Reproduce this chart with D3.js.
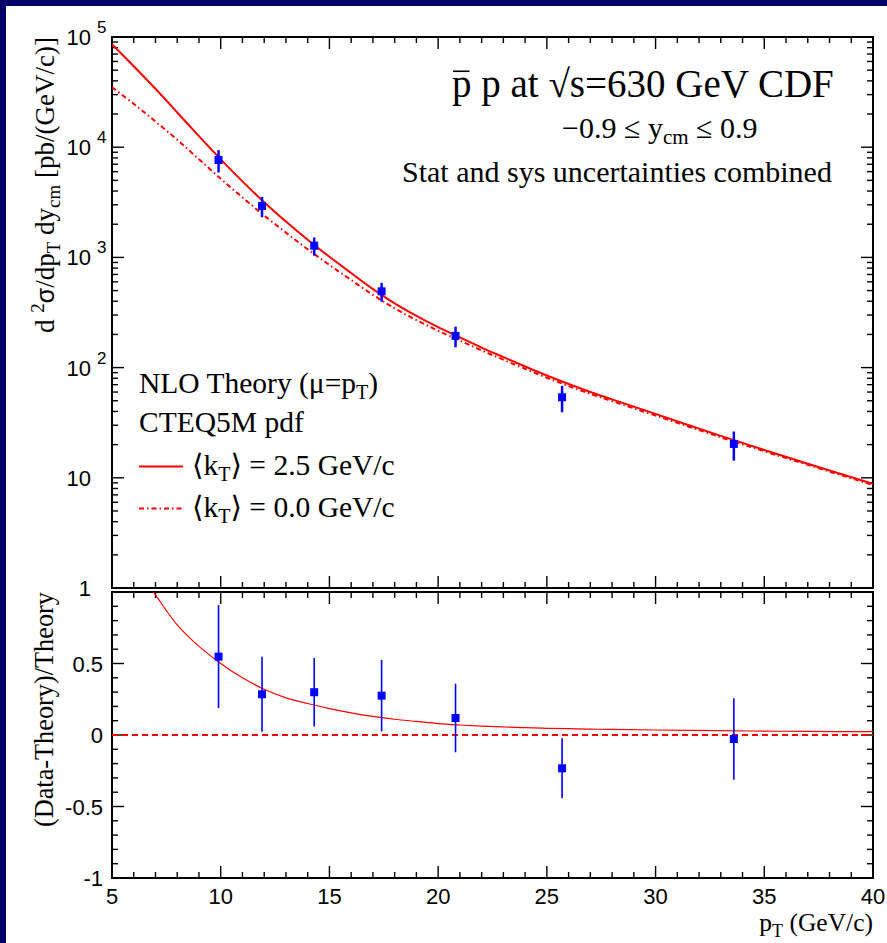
<!DOCTYPE html>
<html>
<head>
<meta charset="utf-8">
<script src="https://cdn.jsdelivr.net/npm/d3@7"></script>
<style>
  body { margin: 0; background: #fff; }
  svg { display: block; }
</style>
</head>
<body>
<svg id="chart" width="887" height="943"></svg>
<script>
// ---- measured points (CDF, sqrt(s) = 630 GeV) ----
const dataPT       = [9.9, 11.9, 14.3, 17.4, 20.8, 25.7, 33.6];
const dataXsec     = [7650, 2925, 1277, 492, 194, 53.8, 20.3];
const dataXsecErr  = [1750, 610, 240, 96, 41, 14.5, 6];
const dataRatio    = [0.548, 0.285, 0.299, 0.275, 0.119, -0.233, -0.028];
const dataRatioErr = [0.36, 0.263, 0.24, 0.25, 0.24, 0.21, 0.285];

// ---- NLO theory curves ----
const curvePT = [5, 6, 7, 8, 9, 10, 11, 12, 13, 14, 15, 16, 17, 18, 19, 20,
                 21, 22, 23, 24, 25, 26, 27, 28, 30, 33, 35, 37, 40];
const nloKt25 = [86100, 54330, 33880, 20650, 12590, 7762, 4898, 3162, 2113, 1445,
                 1012, 721, 516, 383, 295, 233, 188, 152, 124.5, 102.3,
                 84.7, 71.0, 60.1, 51.5, 38.0, 24.0, 17.9, 13.4, 8.81];
const nloKt0  = [34990, 24720, 17100, 11670, 7771, 5176, 3499, 2396, 1677, 1185,
                 854, 624, 457, 345, 269.5, 216, 175.6, 143.2, 117.8, 97.4,
                 80.9, 68.0, 57.7, 49.6, 36.7, 23.3, 17.4, 13.1, 8.61];

// (kT=2.5 - kT=0)/kT=0
const ratioPT = [5, 6, 6.5, 7, 7.5, 8, 8.5, 9, 10, 11, 12, 13, 14, 15, 16, 17, 18,
                 19, 20, 21, 22, 23, 24, 25, 26, 27, 28, 30, 33, 35, 37, 40];
const ratioKt = [1.46, 1.2, 1.08, 0.98, 0.87, 0.77, 0.69, 0.62, 0.50, 0.40, 0.32,
                 0.26, 0.22, 0.185, 0.155, 0.13, 0.11, 0.095, 0.08, 0.07, 0.062,
                 0.056, 0.051, 0.047, 0.044, 0.041, 0.039, 0.035, 0.030, 0.027,
                 0.025, 0.023];

// ---- axis ticks ----
const xMajorTicks = [5, 10, 15, 20, 25, 30, 35, 40];
const xTickLabels = ["5", "10", "15", "20", "25", "30", "35", "40"];
const yTopDecades = [0, 1, 2, 3, 4, 5];
const yBotMajor   = [-1, -0.5, 0, 0.5, 1];
const yBotLabels  = ["-1", "-0.5", "0", "0.5", ""];

// ---- layout ----
const W = 887, H = 943;
const L = 112, R = 873, T1 = 37, B1 = 588, T2 = 592, B2 = 878;
const SANS = "'Liberation Sans', Arial, Helvetica, sans-serif";
const SERIF = "'Liberation Serif', 'Times New Roman', 'DejaVu Serif', serif";
const RED = "#ff0000", BLUE = "#0000ff";
const DASHDOT = "5,3,1.5,3";

const svg = d3.select("#chart");

// canvas frame
svg.append("rect").attr("width", W).attr("height", H).attr("fill", "#000068");
svg.append("rect").attr("x", 6).attr("y", 6).attr("width", W - 6).attr("height", H - 6)
  .attr("fill", "#ffffff");

const x = d3.scaleLinear().domain([5, 40]).range([L, R]);
const yTop = d3.scaleLog().domain([1, 1e5]).range([B1, T1]);
const yBot = d3.scaleLinear().domain([-1, 1]).range([B2, T2]);

const defs = svg.append("defs");
defs.append("clipPath").attr("id", "clipTop").append("rect")
  .attr("x", L).attr("y", T1).attr("width", R - L).attr("height", B1 - T1);
defs.append("clipPath").attr("id", "clipBot").append("rect")
  .attr("x", L).attr("y", T2).attr("width", R - L).attr("height", B2 - T2);

const MAJ = 12, MIN = 6;
const tickG = svg.append("g").attr("stroke", "#000").attr("stroke-width", 1.4);

function tick(x1, y1, x2, y2) {
  tickG.append("line").attr("x1", x1).attr("y1", y1).attr("x2", x2).attr("y2", y2);
}

// x ticks on both panels, top and bottom edges
const xAll = d3.range(5, 40.001, 1);
[[T1, B1], [T2, B2]].forEach(([top, bot]) => {
  xAll.forEach(v => {
    const len = xMajorTicks.includes(v) ? MAJ : MIN;
    tick(x(v), bot, x(v), bot - len);
    tick(x(v), top, x(v), top + len);
  });
});

// log y ticks (top panel), left and right
yTopDecades.forEach(d => {
  for (let m = 1; m <= 9; m++) {
    const v = m * Math.pow(10, d);
    if (v > 1e5) break;
    const len = m === 1 ? MAJ : MIN;
    tick(L, yTop(v), L + len, yTop(v));
    tick(R, yTop(v), R - len, yTop(v));
  }
});

// linear y ticks (bottom panel), left and right
d3.range(-10, 11).forEach(i => {
  const v = i / 10;
  const len = (i % 5 === 0) ? MAJ : MIN;
  tick(L, yBot(v), L + len, yBot(v));
  tick(R, yBot(v), R - len, yBot(v));
});

// panel frames
[[T1, B1], [T2, B2]].forEach(([top, bot]) => {
  svg.append("rect").attr("x", L).attr("y", top).attr("width", R - L).attr("height", bot - top)
    .attr("fill", "none").attr("stroke", "#000").attr("stroke-width", 2);
});

// ---- tick labels ----
const lab = svg.append("g").attr("font-family", SANS).attr("fill", "#000");

yTopDecades.forEach(d => {
  const yy = yTop(Math.pow(10, d));
  const base = d === 0 ? "1" : "10";
  lab.append("text").attr("x", 91).attr("y", yy + 8).attr("text-anchor", "end")
    .attr("font-size", 22).text(base);
  if (d >= 2) {
    lab.append("text").attr("x", 97).attr("y", yy - 4).attr("font-size", 17).text(String(d));
  }
});

yBotMajor.forEach((v, i) => {
  if (!yBotLabels[i]) return;
  lab.append("text").attr("x", 103).attr("y", yBot(v) + 8).attr("text-anchor", "end")
    .attr("font-size", 22).text(yBotLabels[i]);
});

xMajorTicks.forEach((v, i) => {
  lab.append("text").attr("x", x(v)).attr("y", 903.5).attr("text-anchor", "middle")
    .attr("font-size", 22).text(xTickLabels[i]);
});

// ---- axis titles ----
const ttl = svg.append("g").attr("font-family", SERIF).attr("fill", "#000");

const yT = ttl.append("text").attr("transform", `translate(54,${T1}) rotate(-90)`)
  .attr("text-anchor", "end").attr("font-size", 27);
yT.append("tspan").text("d ");
yT.append("tspan").attr("font-size", 19).attr("dy", -10).text("2");
yT.append("tspan").attr("dy", 10).attr("font-family", SANS).attr("font-size", 25).text("σ");
yT.append("tspan").text("/dp");
yT.append("tspan").attr("font-size", 19).attr("dy", 6).text("T");
yT.append("tspan").attr("dy", -6).text(" dy");
yT.append("tspan").attr("font-size", 19).attr("dy", 6).text("cm");
yT.append("tspan").attr("dy", -6).text(" [pb/(GeV/c)]");

ttl.append("text").attr("transform", `translate(53,${T2}) rotate(-90)`)
  .attr("text-anchor", "end").attr("font-size", 26.3).text("(Data-Theory)/Theory");

const xT = ttl.append("text").attr("x", R).attr("y", 931).attr("text-anchor", "end")
  .attr("font-size", 25.5);
xT.append("tspan").text("p");
xT.append("tspan").attr("font-size", 18).attr("dy", 6).text("T");
xT.append("tspan").attr("dy", -6).text(" (GeV/c)");

// ---- top panel: theory curves ----
const topPlot = svg.append("g").attr("clip-path", "url(#clipTop)");
const lineTop = d3.line().curve(d3.curveCatmullRom.alpha(0.5))
  .x(d => x(d[0])).y(d => yTop(d[1]));

topPlot.append("path").datum(d3.zip(curvePT, nloKt0)).attr("d", lineTop)
  .attr("fill", "none").attr("stroke", RED).attr("stroke-width", 2)
  .attr("stroke-dasharray", DASHDOT);
topPlot.append("path").datum(d3.zip(curvePT, nloKt25)).attr("d", lineTop)
  .attr("fill", "none").attr("stroke", RED).attr("stroke-width", 2);

// data points with combined uncertainties
const SQ = 8;
dataPT.forEach((p, i) => {
  const v = dataXsec[i], e = dataXsecErr[i];
  topPlot.append("line").attr("x1", x(p)).attr("x2", x(p))
    .attr("y1", yTop(v + e)).attr("y2", yTop(v - e))
    .attr("stroke", BLUE).attr("stroke-width", 2.5);
  topPlot.append("rect").attr("x", x(p) - SQ / 2).attr("y", yTop(v) - SQ / 2)
    .attr("width", SQ).attr("height", SQ).attr("fill", BLUE);
});

// ---- bottom panel ----
const botPlot = svg.append("g").attr("clip-path", "url(#clipBot)");
const lineBot = d3.line().curve(d3.curveCatmullRom.alpha(0.5))
  .x(d => x(d[0])).y(d => yBot(d[1]));

botPlot.append("line").attr("x1", L).attr("x2", R).attr("y1", yBot(0)).attr("y2", yBot(0))
  .attr("stroke", RED).attr("stroke-width", 2).attr("stroke-dasharray", "6,4");
botPlot.append("path").datum(d3.zip(ratioPT, ratioKt)).attr("d", lineBot)
  .attr("fill", "none").attr("stroke", RED).attr("stroke-width", 1.2);

dataPT.forEach((p, i) => {
  const v = dataRatio[i], e = dataRatioErr[i];
  botPlot.append("line").attr("x1", x(p)).attr("x2", x(p))
    .attr("y1", yBot(v + e)).attr("y2", yBot(v - e))
    .attr("stroke", BLUE).attr("stroke-width", 1.6);
  botPlot.append("rect").attr("x", x(p) - SQ / 2).attr("y", yBot(v) - SQ / 2)
    .attr("width", SQ).attr("height", SQ).attr("fill", BLUE);
});

// ---- header text ----
const hdr = svg.append("g").attr("font-family", SERIF).attr("fill", "#000");
const h1 = hdr.append("text").attr("x", 452).attr("y", 97).attr("font-size", 39)
  .text("p p at √s=630 GeV CDF");
// bar over the antiproton symbol
const ext = h1.node().getExtentOfChar(0);
hdr.append("line").attr("x1", ext.x + 1).attr("x2", ext.x + ext.width - 2)
  .attr("y1", 97 - 0.66 * 39).attr("y2", 97 - 0.66 * 39)
  .attr("stroke", "#000").attr("stroke-width", 1.6);

const h2 = hdr.append("text").attr("x", 562).attr("y", 138).attr("font-size", 30);
h2.append("tspan").text("−0.9 ≤ y");
h2.append("tspan").attr("font-size", 21).attr("dy", 6).text("cm");
h2.append("tspan").attr("dy", -6).text(" ≤ 0.9");

hdr.append("text").attr("x", 402).attr("y", 182).attr("font-size", 30)
  .text("Stat and sys uncertainties combined");

// ---- legend ----
const leg = svg.append("g").attr("font-family", SERIF).attr("fill", "#000")
  .attr("font-size", 29.5);
const l1 = leg.append("text").attr("x", 139).attr("y", 393);
l1.append("tspan").text("NLO Theory (μ=p");
l1.append("tspan").attr("font-size", 20).attr("dy", 6).text("T");
l1.append("tspan").attr("dy", -6).text(")");
leg.append("text").attr("x", 139).attr("y", 432).text("CTEQ5M pdf");

const legendRows = [
  { y: 475, label: "2.5", dash: null },
  { y: 517, label: "0.0", dash: DASHDOT }
];
legendRows.forEach(r => {
  leg.append("line").attr("x1", 139).attr("x2", 183).attr("y1", r.y - 8.5).attr("y2", r.y - 8.5)
    .attr("stroke", RED).attr("stroke-width", 2).attr("stroke-dasharray", r.dash);
  const t = leg.append("text").attr("x", 192).attr("y", r.y);
  t.append("tspan").text("⟨k");
  t.append("tspan").attr("font-size", 20).attr("dy", 6).text("T");
  t.append("tspan").attr("dy", -6).text(`⟩ = ${r.label} GeV/c`);
});
</script>
</body>
</html>
